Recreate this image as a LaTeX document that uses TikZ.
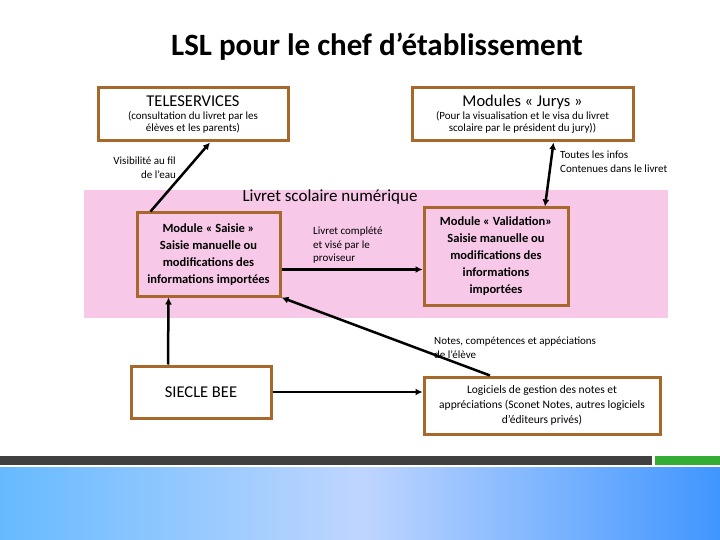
\documentclass[tikz,border=0pt]{standalone}
\usepackage{fontspec}
\setmainfont{Carlito}
\usetikzlibrary{arrows.meta}
\definecolor{brd}{HTML}{A8682C}
\definecolor{pinkbg}{HTML}{F8C8E8}
\tikzset{
 box/.style={draw=brd,line width=3pt,fill=white,align=center,inner sep=2pt},
 pbox/.style={box,fill=pinkbg},
 conn/.style={line width=2.5pt,-{Latex[length=7pt,width=7pt]}},
 lbl/.style={font=\fontsize{11}{13.5}\selectfont,inner sep=0pt}
}
\begin{document}
\begin{tikzpicture}[x=1pt,y=-1pt]
\useasboundingbox (0,0) rectangle (720,540);
\fill[white] (0,0) rectangle (720,540);
\node[font=\bfseries\fontsize{31}{36}\selectfont] (title) at (377,47) {LSL pour le chef d’établissement};
\fill[pinkbg] (84,190) rectangle (668,318);
\node[font=\fontsize{17}{20}\selectfont,inner sep=0pt] (lsn) at (330,197) {Livret scolaire numérique};
\node[box,minimum width=190,minimum height=53] (tele) at (193,114.5) {{\fontsize{16.5}{19}\selectfont TELESERVICES}\\[1pt]{\fontsize{11}{13}\selectfont (consultation du livret par les}\\{\fontsize{11}{13}\selectfont élèves et les parents)}};
\node[box,minimum width=221,minimum height=53] (jury) at (522.5,114.5) {{\fontsize{16.5}{19}\selectfont Modules « Jurys »}\\[1pt]{\fontsize{11}{13}\selectfont (Pour la visualisation et le visa du livret}\\{\fontsize{11}{13}\selectfont scolaire par le président du jury))}};
\node[pbox,minimum width=143,minimum height=83,font=\bfseries\fontsize{12.5}{17}\selectfont] (saisie) at (208.5,254.5) {Module « Saisie »\\Saisie manuelle ou\\modifications des\\informations importées};
\node[pbox,minimum width=144,minimum height=97,font=\bfseries\fontsize{12.5}{17}\selectfont] (valid) at (496,256.5) {Module « Validation»\\Saisie manuelle ou\\modifications des\\informations\\importées};
\node[box,minimum width=140,minimum height=52,font=\fontsize{16.5}{19}\selectfont] (siecle) at (201,392) {SIECLE BEE};
\node[box,minimum width=236,minimum height=57,font=\fontsize{11.5}{15}\selectfont] (logi) at (542,405.5) {Logiciels de gestion des notes et\\appréciations (Sconet Notes, autres logiciels\\d’éditeurs privés)};
\node[lbl,align=right,anchor=north east] (vis) at (176,157) {Visibilité au fil\\de l’eau};
\node[lbl,align=left,anchor=north west] (tout) at (560,151) {Toutes les infos\\Contenues dans le livret};
\node[lbl,align=left,anchor=north west] (compl) at (313,227) {Livret complété\\et visé par le\\proviseur};
\node[lbl,align=left,anchor=north west] (notes) at (434,337) {Notes, compétences et appéciations\\de l’élève};
\draw[conn] ([xshift=-58]saisie.north) -- ([xshift=17]tele.south);
\draw[conn,{Latex[length=7pt,width=7pt]}-{Latex[length=7pt,width=7pt]}] ([xshift=31]jury.south) -- ([xshift=49]valid.north);
\draw[conn] ([yshift=-15]saisie.east) -- ([yshift=-13]valid.west);
\draw[conn] ([xshift=-33]siecle.north) -- ([xshift=-40]saisie.south);
\draw[conn] ([xshift=-52]logi.north) -- (saisie.south east);
\draw[conn] (siecle.east) -- ([yshift=13.5]logi.west);
\fill[black!75] (0,456) rectangle (652,465);
\fill[green!60!black!80] (655,456) rectangle (720,465);
\shade[left color=blue!45!cyan!60, right color=blue!55!cyan!75, middle color=cyan!35!blue!25] (0,467) rectangle (720,540);
\end{tikzpicture}
\end{document}
